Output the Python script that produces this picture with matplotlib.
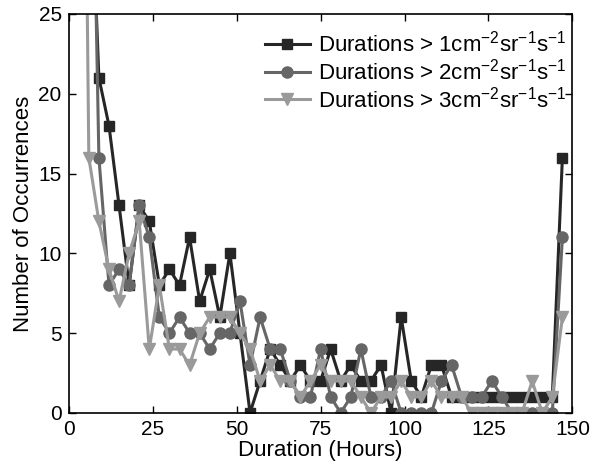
import matplotlib.pyplot as plt
import numpy as np

plt.rcParams['font.family'] = ['Liberation Sans', 'DejaVu Sans']
plt.rcParams['mathtext.fontset'] = 'custom'
plt.rcParams['mathtext.rm'] = 'Liberation Sans'

# duration bins (hours)
hours = np.arange(3, 150, 3)

# occurrences above each threshold (cm^-2 sr^-1 s^-1)
dur_1 = [55, 37, 21, 18, 13, 8, 13, 12, 8, 9, 8, 11, 7, 9, 6, 10,
         5, 0, 2, 4, 3, 2, 3, 2, 2, 4, 2, 3, 2, 2, 3, 0,
         6, 2, 1, 3, 3, 1, 1, 1, 1, 1, 1, 1, 1, 1, 1, 1, 16]
dur_2 = [70, 49, 16, 8, 9, 8, 13, 11, 6, 5, 6, 5, 5, 4, 5, 5,
         7, 3, 6, 4, 4, 2, 1, 1, 4, 1, 0, 1, 4, 1, 1, 2,
         0, 0, 0, 0, 2, 3, 1, 1, 1, 2, 1, 0, 0, 0, 0, 0, 11]
dur_3 = [76, 16, 12, 9, 7, 10, 12, 4, 8, 4, 4, 3, 5, 6, 6, 6,
         5, 4, 2, 3, 2, 2, 1, 2, 3, 2, 2, 2, 1, 0, 1, 1,
         2, 1, 1, 2, 1, 1, 1, 0, 0, 0, 0, 0, 0, 2, 0, 1, 6]

labels = [r'Durations > 1cm$^{-2}$sr$^{-1}$s$^{-1}$',
          r'Durations > 2cm$^{-2}$sr$^{-1}$s$^{-1}$',
          r'Durations > 3cm$^{-2}$sr$^{-1}$s$^{-1}$']

fig = plt.figure(figsize=(5.92, 4.66), dpi=100)
ax = fig.add_axes([0.116, 0.114, 0.851, 0.856])

ax.plot(hours, dur_1, '-s', color='#262626', lw=2.2, ms=7, label=labels[0])
ax.plot(hours, dur_2, '-o', color='#666666', lw=2.2, ms=8, label=labels[1])
ax.plot(hours, dur_3, '-v', color='#9a9a9a', lw=2.2, ms=9, label=labels[2])

ax.set_xlim(0, 150)
ax.set_ylim(0, 25)
ax.set_xticks(range(0, 151, 25))
ax.set_yticks(range(0, 26, 5))
ax.tick_params(direction='in', top=True, right=True, labelsize=15, length=5, width=1, pad=5)
for s in ax.spines.values():
    s.set_linewidth(1.2)

ax.set_xlabel('Duration (Hours)', fontsize=16, labelpad=1)
ax.set_ylabel('Number of Occurrences', fontsize=16, labelpad=3)

# legend without a frame, anchored near the top-right corner
leg = ax.legend(loc='upper right', numpoints=1, fontsize=16, frameon=False,
                bbox_to_anchor=(566 / 592, 1 - 31 / 466), bbox_transform=fig.transFigure,
                borderaxespad=0, borderpad=0, handlelength=2.0,
                labelspacing=0.08, handletextpad=0.36)

plt.savefig('out.png', dpi=100)
